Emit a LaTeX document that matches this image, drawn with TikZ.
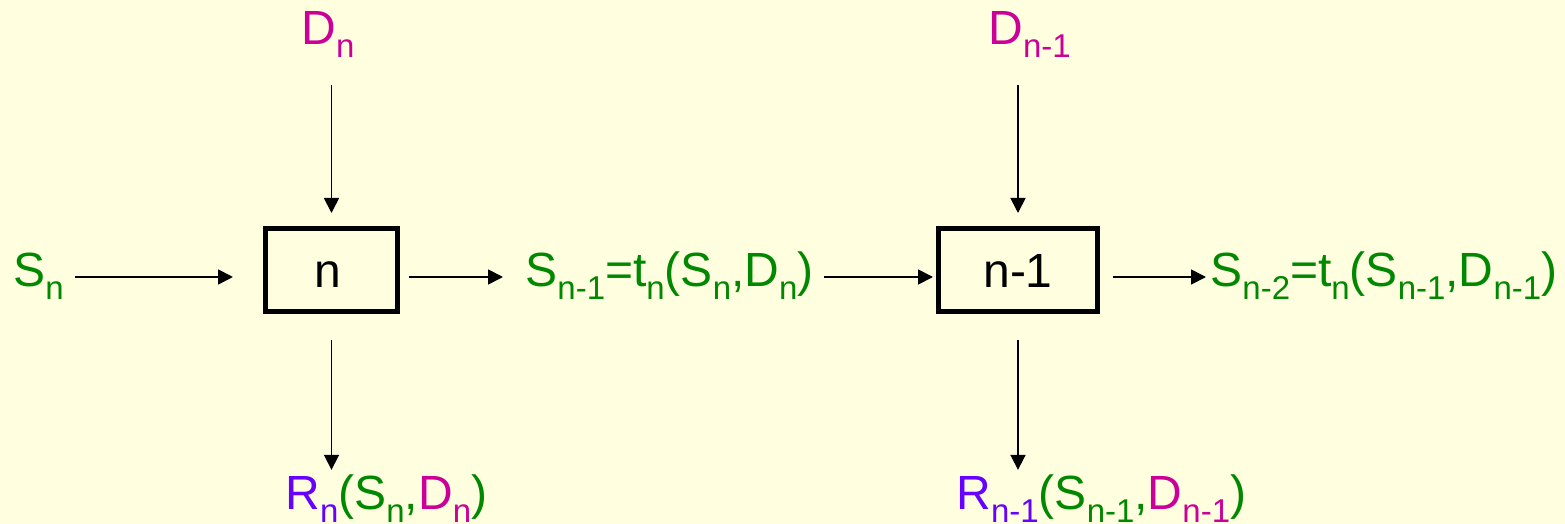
\documentclass[tikz,border=0pt]{standalone}
\usepackage{fontspec}
\setmainfont{Liberation Sans}
\usetikzlibrary{arrows.meta}
\definecolor{bg}{RGB}{255,255,224}
\definecolor{gr}{RGB}{0,136,0}
\definecolor{mg}{RGB}{204,0,153}
\definecolor{rp}{RGB}{102,0,255}
\newcommand{\lowsub}[1]{\raisebox{-6.5pt}{\fontsize{16.5}{18}\selectfont #1}}
\begin{document}
\begin{tikzpicture}[x=0.5pt,y=-0.5pt,
  txt/.style={inner sep=0pt,anchor=base west,font=\fontsize{24}{28}\selectfont},
  stagebox/.style={draw=black,line width=2.5pt,minimum width=#1,minimum height=41.5pt,inner sep=0pt,text height=17pt,text depth=0pt,font=\fontsize{24}{28}\selectfont},
  arr/.style={line width=0.9pt,-{Triangle[length=7.5pt,width=7.5pt]}}]
\path[fill=bg,use as bounding box] (0,0) rectangle (1565,524);
% boxes
\node[stagebox=66pt] (bn) at (331.5,270) {n\hspace*{4pt}};
\node[stagebox=79.5pt] (bn1) at (1018,270) {n-1};
% texts
\node[txt,text=gr] (sn) at (13,286) {S\lowsub{n}};
\node[txt,text=mg] (dn) at (301,45) {D\lowsub{n}};
\node[txt,text=mg] (dn1) at (988,45) {D\lowsub{n-1}};
\node[txt,text=gr] (s1) at (525,286) {S\lowsub{n-1}=t\lowsub{n}(S\lowsub{n},D\lowsub{n})};
\node[txt,text=gr] (s2) at (1210,286) {S\lowsub{n-2}=t\lowsub{n}(S\lowsub{n-1},D\lowsub{n-1})};
\node[txt] (rn) at (285,509) {{\color{rp}R\lowsub{n}}{\color{gr}(S\lowsub{n},}{\color{mg}D\lowsub{n}}{\color{gr})}};
\node[txt] (rn1) at (956,509) {{\color{rp}R\lowsub{n-1}}{\color{gr}(S\lowsub{n-1},}{\color{mg}D\lowsub{n-1}}{\color{gr})}};
\coordinate (ay) at (0,277);
% horizontal arrows
\draw[arr,shorten <=5.5pt,shorten >=15pt] (sn.east |- ay) -- (bn.west |- ay);
\draw[arr,shorten <=4.5pt,shorten >=11pt] (bn.east |- ay) -- (s1.west |- ay);
\draw[arr,shorten <=5pt,shorten >=1.5pt] (s1.east |- ay) -- (bn1.west |- ay);
\draw[arr,shorten <=6.5pt,shorten >=2pt] (bn1.east |- ay) -- (s2.west |- ay);
% vertical arrows
\draw[arr,shorten <=13.5pt,shorten >=6.5pt] (bn |- dn.south) -- (bn.north);
\draw[arr,shorten <=13.5pt,shorten >=6.5pt] (bn1 |- dn1.south) -- (bn1.north);
\draw[arr,shorten <=13pt,shorten >=2pt] (bn.south) -- (bn |- rn.north);
\draw[arr,shorten <=13pt,shorten >=2pt] (bn1.south) -- (bn1 |- rn1.north);
\end{tikzpicture}
\end{document}
